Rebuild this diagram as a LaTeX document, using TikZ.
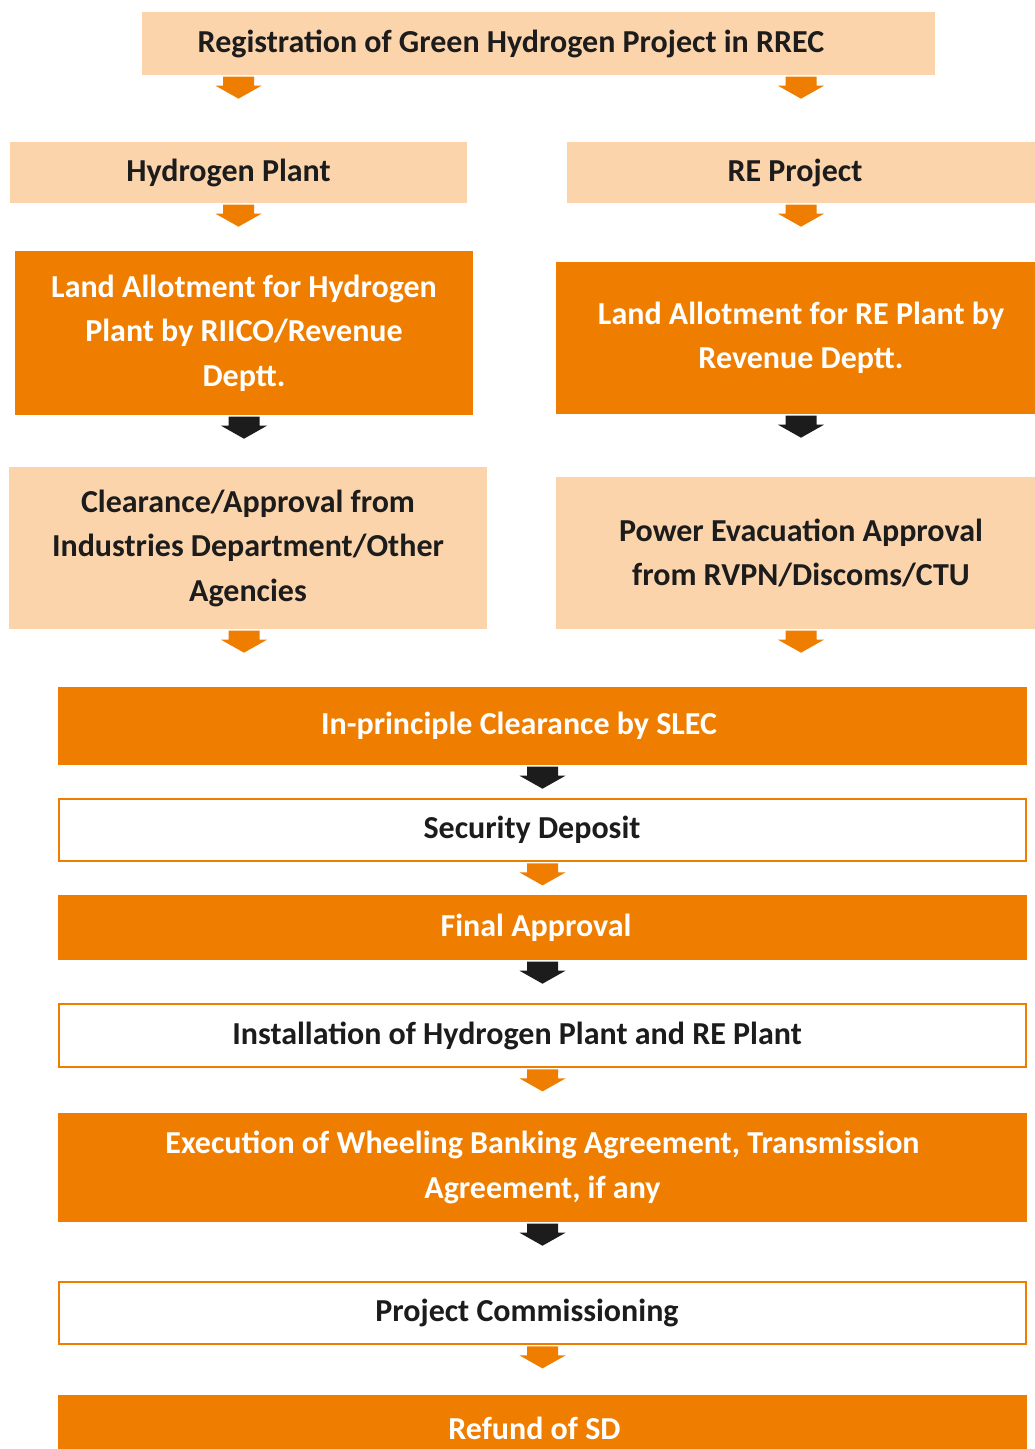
\documentclass[tikz,border=0pt]{standalone}
\usepackage{fontspec}
\setmainfont{Carlito}
\usetikzlibrary{calc}

% block arrow hanging under a box: colour, anchor point
\newcommand{\flowarrow}[2]{%
    \path[fill=#1, shift={(#2)}] (-15.5,1.5) -- (15.5,1.5) -- (15.5,10.5) -- (23,10.5)
        -- (0,23.5) -- (-23,10.5) -- (-15.5,10.5) -- cycle;
}

\begin{document}
\begin{tikzpicture}[x=1pt, y=-1pt,
    box/.style={inner sep=0pt, align=center, font=\fontsize{32}{44.5}\selectfont\bfseries},
    lightbox/.style={box, fill=hy_peach, text=hy_black},
    darkbox/.style={box, fill=hy_orange, text=white},
    outlinebox/.style={box, fill=white, draw=hy_orange, line width=1.8pt, text=hy_black},
    nudge/.style={execute at begin node={\hspace*{#1}}}]
    \definecolor{hy_orange}{HTML}{EF7D00}
    \definecolor{hy_peach}{HTML}{FBD4AB}
    \definecolor{hy_black}{HTML}{1C1C1C}
    %\draw[help lines] (0,0) grid (1035,1449);
    \useasboundingbox (0,0) rectangle (1035,1449);

    \node[lightbox, nudge=-55pt, minimum width=793pt, minimum height=63pt] (reg) at (538.5,43.5)
        {Registration of Green Hydrogen Project in RREC};

    % two columns
    \node[lightbox, nudge=-20pt, minimum width=457pt, minimum height=61pt] (hp) at (238.5,172.5) {Hydrogen Plant};
    \node[lightbox, nudge=-12pt, minimum width=468pt, minimum height=61pt] (rep) at (801,172.5) {RE Project};

    \node[darkbox, minimum width=458pt, minimum height=164pt] (lah) at (244,333)
        {Land Allotment for Hydrogen\\Plant by RIICO/Revenue\\Deptt.};
    \node[darkbox, minimum width=490pt, minimum height=152pt] (lar) at (801,338)
        {Land Allotment for RE Plant by\\Revenue Deptt.};

    \node[lightbox, minimum width=478pt, minimum height=162pt] (clr) at (248,548)
        {Clearance/Approval from\\Industries Department/Other\\Agencies};
    \node[lightbox, minimum width=490pt, minimum height=152pt] (pev) at (801,553)
        {Power Evacuation Approval\\from RVPN/Discoms/CTU};

    % single column
    \node[darkbox, nudge=-47pt, minimum width=969pt, minimum height=78pt] (inp) at (542.5,726)
        {In-principle Clearance by SLEC};
    \node[outlinebox, nudge=-21pt, minimum width=967pt, minimum height=62pt] (sd) at (542.5,830) {Security Deposit};
    \node[darkbox, nudge=-13pt, minimum width=969pt, minimum height=65pt] (fa) at (542.5,927.5) {Final Approval};
    \node[outlinebox, nudge=-51pt, minimum width=967pt, minimum height=63pt] (inst) at (542.5,1035.5)
        {Installation of Hydrogen Plant and RE Plant};
    \node[darkbox, minimum width=969pt, minimum height=109pt] (exe) at (542.5,1167.5)
        {Execution of Wheeling Banking Agreement, Transmission\\Agreement, if any};
    \node[outlinebox, nudge=-31pt, minimum width=967pt, minimum height=62pt] (pc) at (542.5,1313) {Project Commissioning};
    \node[darkbox, nudge=-16pt, minimum width=969pt, minimum height=66pt] (ref) at (542.5,1428) {Refund of SD};

    \flowarrow{hy_orange}{reg.south -| hp}
    \flowarrow{hy_orange}{reg.south -| rep}
    \flowarrow{hy_orange}{hp.south}
    \flowarrow{hy_orange}{rep.south}
    \flowarrow{hy_black}{lah.south}
    \flowarrow{hy_black}{lar.south -| rep}
    \flowarrow{hy_orange}{clr.south -| lah}
    \flowarrow{hy_orange}{pev.south -| rep}
    \flowarrow{hy_black}{inp.south}
    \flowarrow{hy_orange}{sd.south}
    \flowarrow{hy_black}{fa.south}
    \flowarrow{hy_orange}{inst.south}
    \flowarrow{hy_black}{exe.south}
    \flowarrow{hy_orange}{pc.south}
\end{tikzpicture}
\end{document}
